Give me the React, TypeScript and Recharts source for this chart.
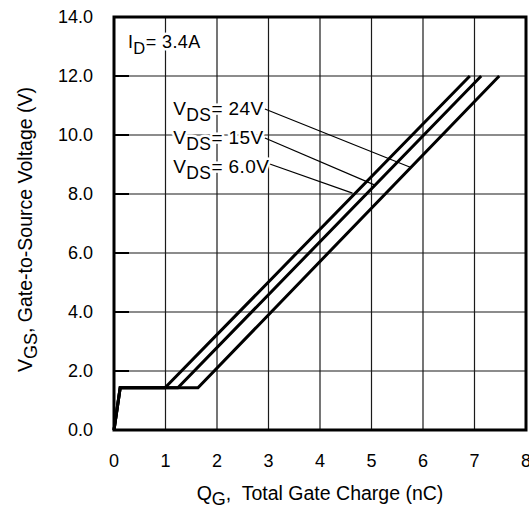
import React from "react";
import {
  LineChart,
  Line,
  XAxis,
  YAxis,
  CartesianGrid,
  ReferenceArea,
  ReferenceLine,
  ReferenceDot,
} from "recharts";

// gate charge curves, one per drain-source voltage
const vgsPoints = [0, 1.43, 1.43, 12];
const qg6V = [0, 0.12, 0.99, 6.91];
const qg15V = [0, 0.12, 1.24, 7.13];
const qg24V = [0, 0.12, 1.63, 7.48];

const qgTicks = [0, 1, 2, 3, 4, 5, 6, 7, 8];
const vgsTicks = [0, 2, 4, 6, 8, 10, 12, 14];

// annotation labels (x, y in chart units) and their leader lines
const vdsLabels = ["24V", "15V", "6.0V"];
const labelX = [1.15, 1.15, 1.15];
const labelY = [10.68, 9.69, 8.71];
const leaderFrom = [
  { x: 2.93, y: 10.88 },
  { x: 2.93, y: 9.9 },
  { x: 2.97, y: 9.05 },
];
const leaderTo = [
  { x: 5.765, y: 8.9 },
  { x: 5.066, y: 8.3 },
  { x: 4.631, y: 8.03 },
];

const toPoints = (qs: number[]) =>
  qs.map((q, i) => ({ qg: q, vgs: vgsPoints[i] }));

const series = [
  { name: "6.0V", data: toPoints(qg6V) },
  { name: "15V", data: toPoints(qg15V) },
  { name: "24V", data: toPoints(qg24V) },
];

const FONT = "'Liberation Sans', Arial, Helvetica, sans-serif";

const halo = {
  stroke: "#fff",
  strokeWidth: 5,
  paintOrder: "stroke" as const,
  strokeLinejoin: "round" as const,
};

const SubText = (props: any) => {
  const { viewBox, main, sub, rest, size } = props;
  const x = viewBox?.x ?? 0;
  const y = viewBox?.y ?? 0;
  return (
    <text
      x={x}
      y={y}
      fontFamily={FONT}
      fontSize={size}
      fill="#000"
      letterSpacing={0.4}
      {...halo}
    >
      <tspan>{main}</tspan>
      <tspan dy={6} fontSize={size * 0.92}>
        {sub}
      </tspan>
      <tspan dy={-6}>{rest}</tspan>
    </text>
  );
};

const XTitle = (props: any) => {
  const vb = props.viewBox || { x: 0, y: 0, width: 0, height: 0 };
  return (
    <text
      x={vb.x + vb.width / 2}
      y={500}
      textAnchor="middle"
      fontFamily={FONT}
      fontSize={19.5}
      fill="#000"
      style={{ whiteSpace: "pre" }}
    >
      <tspan>Q</tspan>
      <tspan dy={5} fontSize={18}>
        G
      </tspan>
      <tspan dy={-5}>{",  Total Gate Charge (nC)"}</tspan>
    </text>
  );
};

const YTitle = (props: any) => {
  const vb = props.viewBox || { x: 0, y: 0, width: 0, height: 0 };
  const cx = 32;
  const cy = vb.y + vb.height / 2 + 6;
  return (
    <text
      x={cx}
      y={cy}
      textAnchor="middle"
      transform={`rotate(-90, ${cx}, ${cy})`}
      fontFamily={FONT}
      fontSize={19.5}
      fill="#000"
    >
      <tspan>V</tspan>
      <tspan dy={5} fontSize={18}>
        GS
      </tspan>
      <tspan dy={-5}>{", Gate-to-Source Voltage (V)"}</tspan>
    </text>
  );
};

export default function App() {
  return (
    <div
      style={{
        position: "absolute",
        left: 0,
        top: 0,
        width: 529,
        height: 507,
        overflow: "hidden",
        background: "#fff",
      }}
    >
      <LineChart
        width={560}
        height={507}
        margin={{ top: 17, right: 34, bottom: 37, left: 0 }}
      >
        <CartesianGrid stroke="#1a1a1a" strokeWidth={1.2} />
        <XAxis
          type="number"
          dataKey="qg"
          domain={[0, 8]}
          ticks={qgTicks}
          allowDuplicatedCategory={false}
          axisLine={false}
          tickLine={false}
          tickSize={0}
          tickMargin={24}
          height={40}
          tick={{ fill: "#000", fontSize: 18, fontFamily: FONT }}
          label={<XTitle />}
        />
        <YAxis
          type="number"
          domain={[0, 14]}
          ticks={vgsTicks}
          width={114}
          axisLine={false}
          tickSize={15}
          tickMargin={6}
          tickLine={{
            stroke: "#000",
            strokeWidth: 2,
            transform: "translate(15,0)",
          }}
          tickFormatter={(v) => v.toFixed(1)}
          tick={{ fill: "#000", fontSize: 18, fontFamily: FONT }}
          label={<YTitle />}
        />
        <ReferenceArea
          x1={0}
          x2={8}
          y1={0}
          y2={14}
          fill="none"
          stroke="#000"
          strokeWidth={3}
        />
        {leaderFrom.map((p, i) => (
          <ReferenceLine
            key={"leader" + i}
            segment={[p, leaderTo[i]]}
            stroke="#000"
            strokeWidth={1.2}
          />
        ))}
        {series.map((s) => (
          <Line
            key={s.name}
            data={s.data}
            dataKey="vgs"
            name={s.name}
            type="linear"
            stroke="#000"
            strokeWidth={3}
            dot={false}
            isAnimationActive={false}
          />
        ))}
        <ReferenceDot
          x={0.27}
          y={12.95}
          r={0}
          fill="none"
          stroke="none"
          label={<SubText main="I" sub="D" rest="= 3.4A" size={18} />}
        />
        {vdsLabels.map((t, i) => (
          <ReferenceDot
            key={t}
            x={labelX[i]}
            y={labelY[i]}
            r={0}
            fill="none"
            stroke="none"
            label={<SubText main="V" sub="DS" rest={"= " + t} size={19} />}
          />
        ))}
      </LineChart>
    </div>
  );
}
